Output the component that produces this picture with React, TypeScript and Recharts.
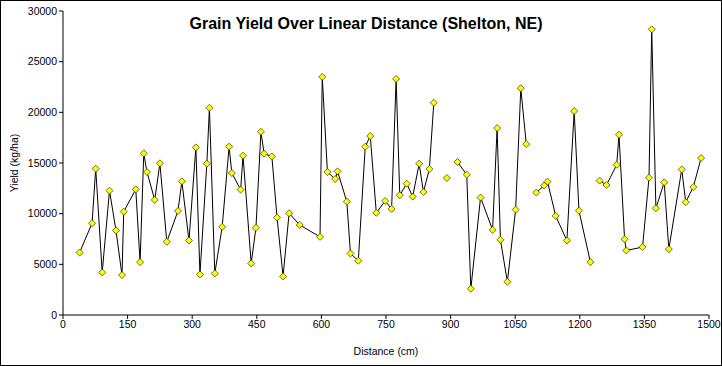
import { LineChart, Line, XAxis, YAxis } from 'recharts'

const distances = [
  38.6, 67.5, 76, 91, 108, 123, 137, 141, 169, 179,
  187.5, 195, 213, 225, 241, 267, 276, 292.5, 308.5, 318,
  334, 340, 352.5, 369.6, 385.7, 392, 412.5, 418, 437, 448,
  459.6, 467, 485, 497, 511, 525, 549.6, 596.8, 602, 614,
  632, 637.5, 659, 667.5, 685.7, 701.8, 713.5, 727.5, 748, 763,
  773.5, 782, 798, 812, 827, 837, 850.7, 861, 876, 891.4,
  904, 916, 937.5, 947, 969.6, 997.5, 1008, 1015.7, 1031.8, 1051,
  1063, 1075.7, 1088, 1099, 1117, 1125, 1144, 1170, 1187, 1198,
  1224.6, 1235, 1246, 1262, 1285.7, 1291, 1304, 1308, 1345.7, 1360.7,
  1367, 1376.7, 1396, 1406.7, 1436.7, 1446, 1463.6, 1481.7,
]

// null = gap in the trace
const yields: (number | null)[] = [
  6170, 9060, 14440, 4200, 12270, 8340, 3940, 10200, 12400, 5220,
  15950, 14110, 11360, 14970, 7220, 10270, 13190, 7350, 16540, 4000,
  14930, 20450, 4100, 8700, 16610, 14010, 12370, 15720, 5090, 8600,
  18080, 15920, 15650, 9620, 3810, 10040, 8890, 7710, 23500, 14110,
  13420, 14180, 11190, 6070, 5350, 16610, 17660, 10080, 11260, 10470,
  23300, 11820, 12960, 11680, 14930, 12140, 14410, 20940, null, 13520,
  null, 15100, 13850, 2590, 11590, 8400, 18450, 7420, 3280, 10400,
  22380, 16870, null, 12080, 12770, 13160, 9780, 7350, 20120, 10300,
  5220, null, 13260, 12830, 14830, 17790, 7480, 6370, 6700, 13550,
  28190, 10530, 13090, 6500, 14370, 11130, 12630, 15490,
]

const xTicks = [0, 150, 300, 450, 600, 750, 900, 1050, 1200, 1350, 1500]
const yTicks = [0, 5000, 10000, 15000, 20000, 25000, 30000]

const data = distances.map((d, i) => ({ d, y: yields[i] }))

const font = '"Liberation Sans", Arial, sans-serif'

function Diamond(props: any) {
  const { cx, cy } = props
  if (cx == null || cy == null || props.value == null) return <g />
  const r = 3.5
  return (
    <polygon
      points={`${cx},${cy - r} ${cx + r},${cy} ${cx},${cy + r} ${cx - r},${cy}`}
      fill="#ffff00"
      stroke="#333300"
      strokeWidth={0.7}
    />
  )
}

export default function App() {
  return (
    <div style={{ position: 'absolute', left: 0, top: 0, width: 722, height: 366, boxSizing: 'border-box', border: '1px solid #000', background: '#fff', fontFamily: font }}>
      <div style={{ position: 'absolute', left: 0, width: 730, top: 14, textAlign: 'center', fontSize: 16, fontWeight: 'bold', color: '#000' }}>
        Grain Yield Over Linear Distance (Shelton, NE)
      </div>
      <LineChart width={720} height={364} data={data} margin={{ top: 10, right: 12, left: 7, bottom: 10 }}>
        <XAxis
          dataKey="d" type="number" domain={[0, 1500]} ticks={xTicks} interval={0}
          axisLine={{ stroke: '#000' }} tickLine={{ stroke: '#000' }} tickSize={4}
          tick={{ fill: '#000', fontSize: 10.5, fontFamily: font }} height={40}
          label={{ value: 'Distance (cm)', position: 'insideBottom', offset: 0, fill: '#000', fontSize: 10.5, fontFamily: font }}
        />
        <YAxis
          type="number" domain={[0, 30000]} ticks={yTicks} interval={0}
          axisLine={{ stroke: '#000' }} tickLine={{ stroke: '#000' }} tickSize={4}
          tick={{ fill: '#000', fontSize: 10.5, fontFamily: font }} width={55}
          label={{ value: 'Yield (kg/ha)', angle: -90, position: 'insideLeft', offset: 6, fill: '#000', fontSize: 10.5, fontFamily: font, style: { textAnchor: 'middle' } }}
        />
        <Line
          dataKey="y" stroke="#000" strokeWidth={1} dot={<Diamond />} activeDot={false}
          isAnimationActive={false} connectNulls={false} type="linear"
        />
      </LineChart>
    </div>
  )
}
